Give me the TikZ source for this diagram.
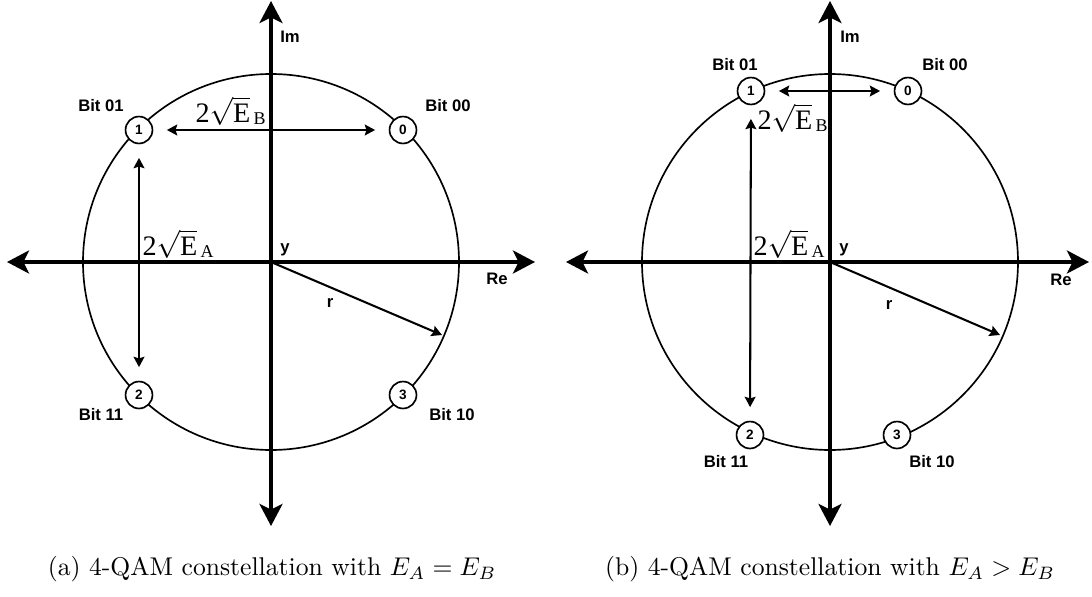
\documentclass[tikz,border=0pt]{standalone}
\usepackage{fontspec}
\usetikzlibrary{arrows.meta}
\newfontfamily\arialf{Liberation Sans}
\newfontfamily\tnrf{Liberation Serif}
\newcommand{\rootlab}[1]{{\tnrf 2}$\sqrt{\hbox{\tnrf E}}$\kern1.3pt{\tnrf\fontsize{7}{7}\selectfont\raisebox{-1pt}{#1}}}
\tikzset{
  bigtip/.tip={Stealth[length=8.6pt,width=9pt,inset=2.2pt]},
  smalltip/.tip={Stealth[length=4pt,width=4.2pt,inset=0.6pt]},
}
\begin{document}
\begin{tikzpicture}[x=0.39pt,y=-0.39pt,
  axis/.style={line width=1.2pt,bigtip-bigtip},
  ring/.style={line width=0.65pt},
  dbl/.style={line width=0.8pt,smalltip-smalltip,shorten <=5.3pt,shorten >=5.3pt},
  vec/.style={line width=0.8pt,-smalltip},
  pt/.style={circle,draw,line width=0.65pt,fill=white,minimum size=10.5pt,inner sep=0pt,
    font=\arialf\bfseries\fontsize{5.3}{5.3}\selectfont},
  lab/.style={font=\arialf\bfseries\fontsize{6.5}{7}\selectfont,inner sep=0pt},
  rlab/.style={font=\tnrf\fontsize{11}{13}\selectfont,inner sep=0pt,anchor=base west},
  captext/.style={font=\fontsize{10}{12}\selectfont}]
\useasboundingbox (0,0) rectangle (1092,597);
% (a) equal energies
\coordinate (ao) at (271,262);
\coordinate (aw) at (7,262);
\coordinate (ae) at (535,262);
\coordinate (an) at (271,1);
\coordinate (as) at (271,526);
\coordinate (ar) at (442,335);
\draw[ring] (ao) circle (188);
\draw[axis] (aw) -- (ae);
\draw[axis] (as) -- (an);
\node[pt] (a1) at (139,130) {1};
\node[pt] (a0) at (403,130) {0};
\node[pt] (a2) at (139,395) {2};
\node[pt] (a3) at (403,395) {3};
\draw[dbl] (a1) -- (a0);
\draw[dbl] (a1) -- (a2);
\draw[vec] (ao) -- (ar);
\node[rlab] (aeb) at (195,122) {\rootlab{B}};
\node[rlab] (aea) at (142,255) {\rootlab{A}};
\node[lab] (ab1) at (101,106) {Bit 01};
\node[lab] (ab0) at (448,106) {Bit 00};
\node[lab] (ab2) at (101,415) {Bit 11};
\node[lab] (ab3) at (452,415) {Bit 10};
\node[lab] (aim) at (290,37) {Im};
\node[lab] (are) at (497,279) {Re};
\node[lab] (ay) at (285,250) {y};
\node[lab] (arr) at (330,303) {r};
\node[captext] (capa) at (272,569) {(a) 4-QAM constellation with $E_A = E_B$};
% (b) E_A larger than E_B
\coordinate (bo) at (830,262);
\coordinate (bw) at (566,262);
\coordinate (be) at (1089,262);
\coordinate (bn) at (830,1);
\coordinate (bs) at (830,526);
\coordinate (br) at (1000,335);
\draw[ring] (bo) circle (188);
\draw[axis] (bw) -- (be);
\draw[axis] (bs) -- (bn);
\node[pt] (b1) at (751,91) {1};
\node[pt] (b0) at (908,91) {0};
\node[pt] (b2) at (750,435) {2};
\node[pt] (b3) at (897,435) {3};
\draw[dbl] (b1) -- (b0);
\draw[dbl] (b1) -- (b2);
\draw[vec] (bo) -- (br);
\node[rlab] (beb) at (757,129) {\rootlab{B}};
\node[rlab] (bea) at (753,255) {\rootlab{A}};
\node[lab] (bb1) at (735,65) {Bit 01};
\node[lab] (bb0) at (945,65) {Bit 00};
\node[lab] (bb2) at (726,462) {Bit 11};
\node[lab] (bb3) at (932,462) {Bit 10};
\node[lab] (bim) at (850,37) {Im};
\node[lab] (bre) at (1061,280) {Re};
\node[lab] (by) at (844,250) {y};
\node[lab] (brr) at (889,305) {r};
\node[captext] (capb) at (830,569) {(b) 4-QAM constellation with $E_A > E_B$};
\end{tikzpicture}
\end{document}
